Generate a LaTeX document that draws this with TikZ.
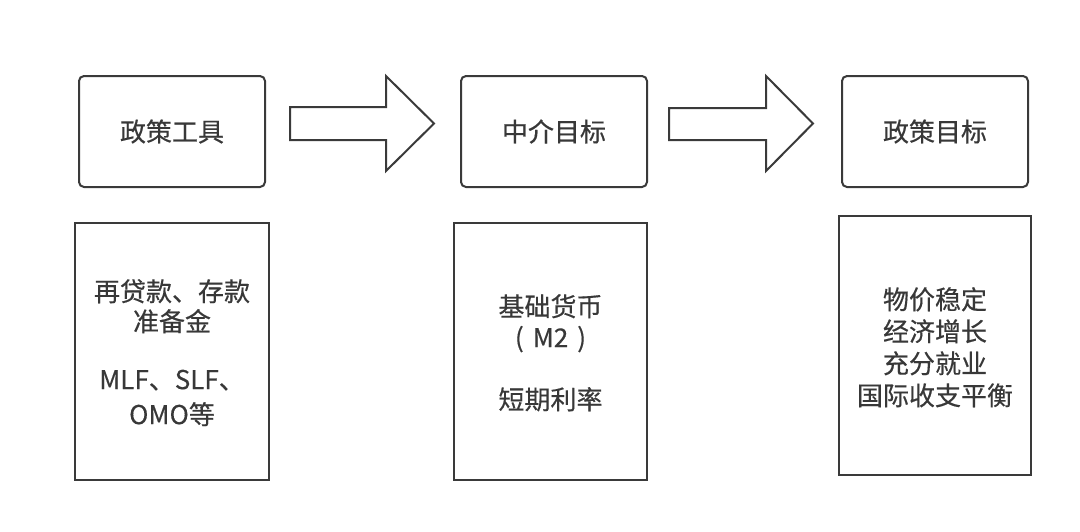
\documentclass[tikz,border=0pt]{standalone}
\usepackage{fontspec}
\setmainfont{Noto Sans CJK SC}[FakeBold=0.4]
\usetikzlibrary{calc}
\definecolor{edge}{HTML}{3A3A3A}
\definecolor{ink}{HTML}{383838}
\tikzset{
  topbox/.style={draw=edge, line width=2pt, rounded corners=5pt, minimum width=186pt, minimum height=111pt, inner sep=0pt, text=ink, font=\fontsize{26}{30}\selectfont},
  lowbox/.style={draw=edge, line width=2pt, minimum height=257pt, inner sep=0pt},
  lowtext/.style={text=ink, align=center, anchor=north, inner sep=0pt},
  bigarrow/.style={draw=edge, line width=2pt, fill=white, line join=miter}
}
\begin{document}
\begin{tikzpicture}[x=1pt,y=-1pt]
\useasboundingbox[fill=white] (0,0) rectangle (1080,531);
\node[topbox] (t1) at (172,131.5) {政策工具};
\node[topbox] (t2) at (554,131.5) {中介目标};
\node[topbox] (t3) at (935,131.5) {政策目标};
\node[lowbox, minimum width=194pt] (b1) at (172,351.5) {};
\node[lowbox, minimum width=193pt] (b2) at (550.5,351.5) {};
\node[lowbox, minimum width=192pt, minimum height=259pt] (b3) at (935,345.5) {};
\node[lowtext, font=\fontsize{26}{30}\selectfont] (x1) at (172,279) {再贷款、存款\\准备金\\[28pt]MLF、SLF、\\[5pt]OMO等};
\node[lowtext, font=\fontsize{26}{31}\selectfont] (x2) at (550.5,294) {基础货币\\(\hspace{9pt}M2\hspace{9pt})\\[31pt]短期利率};
\node[lowtext, font=\fontsize{26}{32}\selectfont] (x3) at (935,287) {物价稳定\\经济增长\\充分就业\\国际收支平衡};
\draw[bigarrow] ($(t1.east)+(24,-24.5)$) -- ++(96,0) -- ++(0,-31) -- ++(48,47.5) -- ++(-48,47.5) -- ++(0,-31) -- ++(-96,0) -- cycle;
\draw[bigarrow] ($(t2.east)+(21,-23.5)$) -- ++(97,0) -- ++(0,-32) -- ++(47,47.5) -- ++(-47,47.5) -- ++(0,-31) -- ++(-97,0) -- cycle;
\end{tikzpicture}
\end{document}
